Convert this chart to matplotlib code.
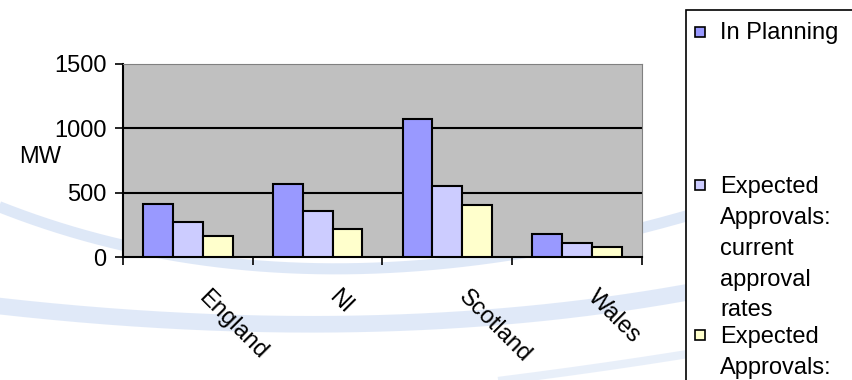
import numpy as np
import matplotlib
matplotlib.use("Agg")
import matplotlib.pyplot as plt
from matplotlib.patches import Rectangle

plt.rcParams['font.family'] = ['Liberation Sans', 'DejaVu Sans']

regions = ["England", "NI", "Scotland", "Wales"]
in_planning = [410, 570, 1070, 180]
approvals_current = [270, 355, 550, 105]
approvals_other = [160, 215, 405, 75]
series_names = ["In Planning",
                "Expected\nApprovals:\ncurrent\napproval\nrates",
                "Expected\nApprovals:\n"]
colors = ["#9999FF", "#CCCCFF", "#FFFFCC"]

FS = 17

fig = plt.figure(figsize=(8.53, 3.8), dpi=100)


def bezier(p0, p1, p2, n=200):
    t = np.linspace(0, 1, n)[:, None]
    p0, p1, p2 = map(np.array, (p0, p1, p2))
    return ((1 - t) ** 2 * p0 + 2 * (1 - t) * t * p1 + t ** 2 * p2).T


# faint blue swooshes in the background (pixel coords)
bg = fig.add_axes([0, 0, 1, 1], zorder=0)
bg.set_xlim(0, 853)
bg.set_ylim(380, 0)
bg.axis("off")
sx, sy = bezier((-10, 203), (300, 330), (700, 212))
bg.plot(sx, sy, color="#C9D9F3", lw=8, alpha=0.6, solid_capstyle="butt")
sx, sy = bezier((-10, 305), (380, 350), (700, 290))
bg.plot(sx, sy, color="#C3D5F2", lw=12, alpha=0.5, solid_capstyle="butt")
sx, sy = bezier((380, 395), (560, 375), (700, 352))
bg.plot(sx, sy, color="#D3E0F5", lw=6, alpha=0.5, solid_capstyle="butt")

ax = fig.add_axes([123 / 853, 1 - 257 / 380, (642 - 123) / 853, (257 - 64) / 380], zorder=1)
ax.set_facecolor("#C0C0C0")

x = np.arange(len(regions))
w = 0.23
for k, vals in enumerate([in_planning, approvals_current, approvals_other]):
    ax.bar(x + (k - 1) * w, vals, w, color=colors[k], edgecolor="black", linewidth=1.5, zorder=3)

ax.set_xlim(-0.5, len(regions) - 0.5)
ax.set_ylim(0, 1500)
ax.set_yticks([0, 500, 1000, 1500])
ax.set_yticklabels(["0", "500", "1000", "1500"], fontsize=FS)
for yv in [500, 1000]:
    ax.axhline(yv, color="black", lw=1.5, zorder=2)

ax.set_xticks(np.arange(len(regions) + 1) - 0.5)
ax.set_xticklabels([])
ax.tick_params(axis="both", direction="out", length=6, width=1.2, colors="black")
ax.tick_params(axis="y", pad=6)
for i, name in enumerate(regions):
    ax.text(i + 0.05, -225, name, rotation=-45, ha="left", va="top",
            fontsize=FS, clip_on=False)

ax.spines["left"].set_linewidth(1.5)
ax.spines["bottom"].set_linewidth(1.5)
ax.spines["top"].set_color("#808080")
ax.spines["right"].set_color("#808080")

fig.text(19 / 853, 1 - 157 / 380, "MW", fontsize=FS, va="center", ha="left")

# legend box, partly outside the picture
fig.patches.append(Rectangle((686 / 853, -0.1), 0.5, 1.1 - 10 / 380, transform=fig.transFigure,
                             facecolor="white", edgecolor="black", lw=1.2, zorder=2))
leg_y = [31.5, 185, 335]
for name, c, yy in zip(series_names, colors, leg_y):
    fig.patches.append(Rectangle((695 / 853, 1 - (yy + 5) / 380), 10 / 853, 10 / 380,
                                 transform=fig.transFigure, facecolor=c,
                                 edgecolor="black", lw=1.2, zorder=3))
    fig.text(720 / 853, 1 - (yy - 9) / 380, name, fontsize=FS, va="top", ha="left",
             linespacing=1.52, zorder=4)

fig.savefig("out.png", dpi=100)
